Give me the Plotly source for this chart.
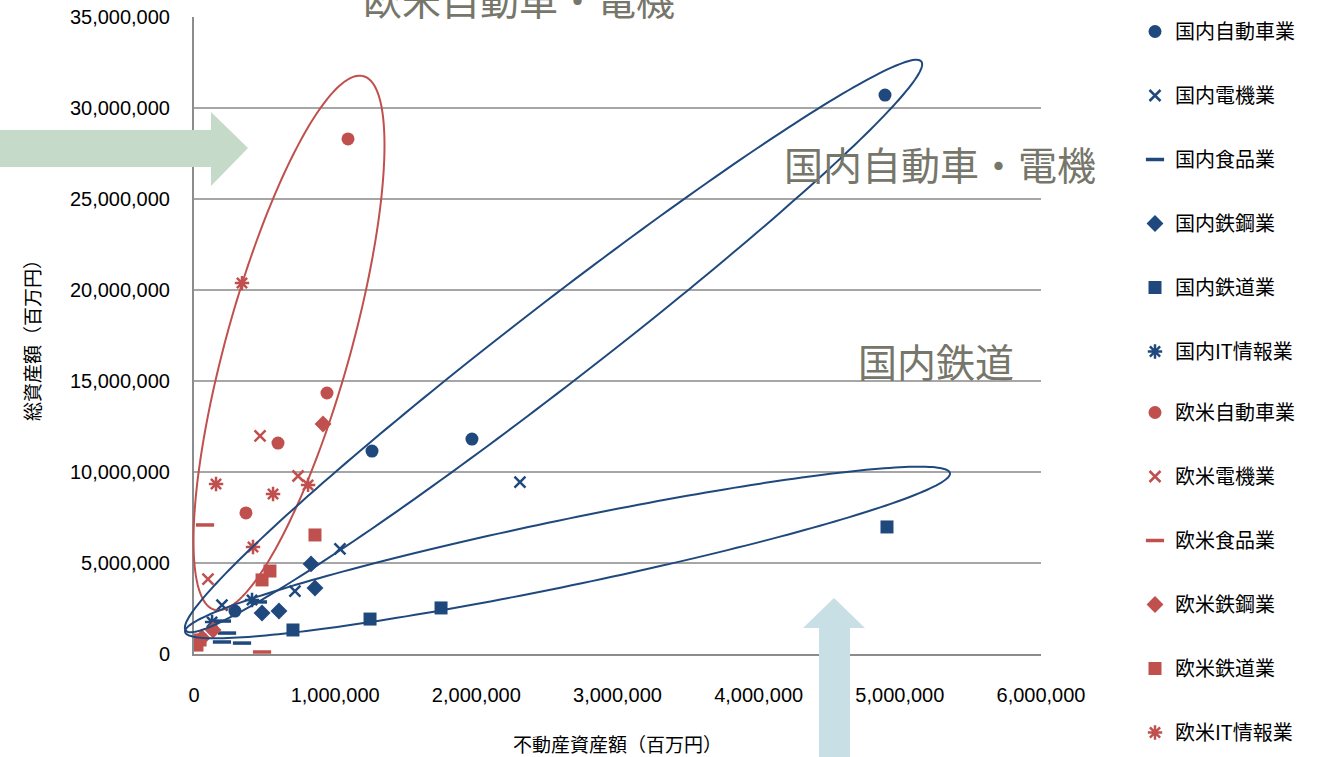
import numpy as np
import plotly.graph_objects as go

M = 1_000_000
# ---- data (x: 不動産資産額, y: 総資産額, 百万円) ----
jp_auto_x = [4.895, 1.969, 1.261, 0.290]
jp_auto_y = [30.71, 11.81, 11.15, 2.36]
jp_elec_x = [2.309, 1.034, 0.715, 0.198]
jp_elec_y = [9.45, 5.77, 3.46, 2.69]
jp_food_x = [0.198, 0.234, 0.198, 0.340, 0.453]
jp_food_y = [1.81, 1.15, 0.66, 0.60, 2.86]
jp_steel_x = [0.829, 0.857, 0.602, 0.482]
jp_steel_y = [4.95, 3.63, 2.36, 2.25]
jp_rail_x = [4.909, 1.750, 1.247, 0.701]
jp_rail_y = [6.98, 2.53, 1.92, 1.32]
jp_it_x = [0.411, 0.128]
jp_it_y = [2.97, 1.76]
eu_auto_x = [1.091, 0.942, 0.595, 0.368]
eu_auto_y = [28.30, 14.34, 11.59, 7.75]
eu_elec_x = [0.468, 0.737, 0.099]
eu_elec_y = [11.98, 9.78, 4.12]
eu_food_x = [0.078, 0.482]
eu_food_y = [7.09, 0.11]
eu_steel_x = [0.914, 0.135, 0.057]
eu_steel_y = [12.64, 1.32, 0.88]
eu_rail_x = [0.857, 0.538, 0.482, 0.021, 0.043]
eu_rail_y = [6.54, 4.56, 4.07, 0.49, 0.77]
eu_it_x = [0.340, 0.156, 0.560, 0.808, 0.418]
eu_it_y = [20.38, 9.34, 8.79, 9.29, 5.88]

x_ticks = [0, 1, 2, 3, 4, 5, 6]
y_ticks = [0, 5, 10, 15, 20, 25, 30, 35]

BLUE = "#1f497d"
RED = "#c0504d"
TXT = "#76766a"

series = [
    ("国内自動車業", jp_auto_x, jp_auto_y, BLUE, "circle", 13),
    ("国内電機業", jp_elec_x, jp_elec_y, BLUE, "x-thin-open", 11),
    ("国内食品業", jp_food_x, jp_food_y, BLUE, "line-ew-open", 13),
    ("国内鉄鋼業", jp_steel_x, jp_steel_y, BLUE, "diamond", 13),
    ("国内鉄道業", jp_rail_x, jp_rail_y, BLUE, "square", 13),
    ("国内IT情報業", jp_it_x, jp_it_y, BLUE, "asterisk-open", 12),
    ("欧米自動車業", eu_auto_x, eu_auto_y, RED, "circle", 13),
    ("欧米電機業", eu_elec_x, eu_elec_y, RED, "x-thin-open", 11),
    ("欧米食品業", eu_food_x, eu_food_y, RED, "line-ew-open", 13),
    ("欧米鉄鋼業", eu_steel_x, eu_steel_y, RED, "diamond", 13),
    ("欧米鉄道業", eu_rail_x, eu_rail_y, RED, "square", 13),
    ("欧米IT情報業", eu_it_x, eu_it_y, RED, "asterisk-open", 12),
]

fig = go.Figure()
for i, (name, xs, ys, col, sym, sz) in enumerate(series):
    lw = 3.5 if sym.startswith("line") else (2.5 if "open" in sym else 0)
    fig.add_trace(go.Scatter(
        x=[v * M for v in xs], y=[v * M for v in ys], mode="markers", name=name,
        legendgroup=f"g{i}", legend="legend" if i < 6 else "legend2",
        marker=dict(color=col, symbol=sym, size=sz, line=dict(color=col, width=lw)),
    ))

# ---- layout geometry (pixels) ----
W, H = 1319, 757
L, R, T, B = 194, 1041, 17, 654
XMAX, YMAX = 6 * M, 35 * M


def px2paper(px, py):
    return (np.asarray(px) - L) / (R - L), (B - np.asarray(py)) / (B - T)


def ellipse_path(cx, cy, ux, uy, a, b, n=240):
    nrm = np.hypot(ux, uy)
    ux, uy = ux / nrm, uy / nrm
    vx, vy = -uy, ux
    t = np.linspace(0, 2 * np.pi, n)
    px = cx + a * np.cos(t) * ux + b * np.sin(t) * vx
    py = cy + a * np.cos(t) * uy + b * np.sin(t) * vy
    dx, dy = px2paper(px, py)
    return "M " + " L ".join(f"{x:.5f},{y:.5f}" for x, y in zip(dx, dy)) + " Z"


def poly_paper(pts):
    out = []
    for px, py in pts:
        x, y = px2paper(px, py)
        out.append(f"{x:.5f},{y:.5f}")
    return "M " + " L ".join(out) + " Z"


shapes = [
    dict(type="path", xref="paper", yref="paper", layer="above",
         path=ellipse_path(289, 343, 150, -537, 277, 62), line=dict(color=RED, width=2)),
    dict(type="path", xref="paper", yref="paper", layer="above",
         path=ellipse_path(553.5, 346, 737, -570, 465, 40), line=dict(color=BLUE, width=2)),
    dict(type="path", xref="paper", yref="paper", layer="above",
         path=ellipse_path(567.5, 552.5, 765, -159, 390.6, 33), line=dict(color=BLUE, width=2)),
    dict(type="path", xref="paper", yref="paper", layer="above", line=dict(width=0),
         fillcolor="#c5dac9",
         path=poly_paper([(-10, 130), (211, 130), (211, 112), (248, 148), (211, 186), (211, 167), (-10, 167)])),
    dict(type="path", xref="paper", yref="paper", layer="above", line=dict(width=0),
         fillcolor="#c9dfe6",
         path=poly_paper([(819, 770), (819, 628), (803, 628), (834, 598), (865, 628), (850, 628), (850, 770)])),
]

annotations = []
for text, px, py in [("欧米自動車・電機", 519, -2), ("国内自動車・電機", 940, 163), ("国内鉄道", 936, 360)]:
    x, y = px2paper(px, py)
    annotations.append(dict(text=text, x=float(x), y=float(y), xref="paper", yref="paper", showarrow=False,
                            xanchor="center", yanchor="middle",
                            font=dict(size=39, color=TXT, family="Noto Sans CJK JP")))

leg_common = dict(x=float(px2paper(1135, 0)[0]), xanchor="left", yanchor="top",
                  font=dict(size=20, family="Noto Sans CJK JP", color="#000000"),
                  tracegroupgap=35, bgcolor="rgba(0,0,0,0)")

fig.update_layout(
    width=W, height=H,
    margin=dict(l=L, r=W - R, t=T, b=H - B, pad=0, autoexpand=False),
    paper_bgcolor="white", plot_bgcolor="white",
    font=dict(family="Noto Sans CJK JP", color="#000000"),
    shapes=shapes, annotations=annotations,
    showlegend=True,
    legend=dict(y=float(px2paper(0, 12)[1]), **leg_common),
    legend2=dict(y=float(px2paper(0, 393)[1]), **leg_common),
    xaxis=dict(range=[0, XMAX], tickvals=[v * M for v in x_ticks],
               ticktext=[f"{v * M:,}" for v in x_ticks], automargin=False,
               showgrid=False, zeroline=False, showline=True, linecolor="#8c8c8c", linewidth=2,
               ticks="", ticklabelstandoff=22,
               tickfont=dict(family="Liberation Sans", size=20, color="#000000"),
               title=dict(text="不動産資産額（百万円）", standoff=34,
                          font=dict(size=19, family="Noto Sans CJK JP", color="#000000"))),
    yaxis=dict(range=[0, YMAX], tickvals=[v * M for v in y_ticks],
               ticktext=[f"{v * M:,}" for v in y_ticks], automargin=False,
               showgrid=True, gridcolor="#a6a6a6", gridwidth=2, zeroline=False,
               showline=True, linecolor="#8c8c8c", linewidth=2, ticks="", ticklabelstandoff=18,
               tickfont=dict(family="Liberation Sans", size=20, color="#000000"),
               title=dict(text="総資産額（百万円）", standoff=24,
                          font=dict(size=19, family="Noto Sans CJK JP", color="#000000"))),
)

fig.write_html("out.html")
